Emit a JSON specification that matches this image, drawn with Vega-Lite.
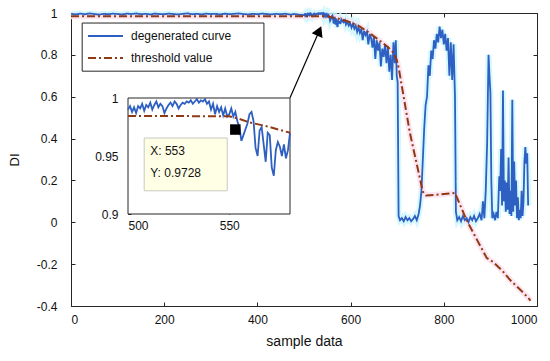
{
"$schema": "https://vega.github.io/schema/vega-lite/v6.json",
"width": 466, "height": 293,
"autosize": "none",
"padding": {"left": 71, "top": 13, "right": 13, "bottom": 55},
"background": "white",
"config": {
  "font": "Liberation Sans",
  "view": {"stroke": "#262626", "strokeWidth": 1},
  "axis": {"grid": false, "domain": false, "tickColor": "#262626", "labelColor": "#111", "labelFontSize": 12, "labelFont": "Liberation Sans", "titleFont": "Liberation Sans", "titleFontWeight": "normal", "titleColor": "#111"},
  "legend": {"labelFont": "Liberation Sans"}
},
"datasets": {
  "curves": [
    {"x":0,"y":0.996,"s":"degenerated curve"},{"x":10,"y":0.993,"s":"degenerated curve"},{"x":20,"y":0.997,"s":"degenerated curve"},{"x":30,"y":0.994,"s":"degenerated curve"},{"x":40,"y":0.998,"s":"degenerated curve"},{"x":50,"y":0.995,"s":"degenerated curve"},{"x":60,"y":0.992,"s":"degenerated curve"},{"x":70,"y":0.996,"s":"degenerated curve"},{"x":80,"y":0.994,"s":"degenerated curve"},{"x":90,"y":0.997,"s":"degenerated curve"},
    {"x":100,"y":0.995,"s":"degenerated curve"},{"x":110,"y":0.993,"s":"degenerated curve"},{"x":120,"y":0.997,"s":"degenerated curve"},{"x":130,"y":0.995,"s":"degenerated curve"},{"x":140,"y":0.998,"s":"degenerated curve"},{"x":150,"y":0.994,"s":"degenerated curve"},{"x":160,"y":0.996,"s":"degenerated curve"},{"x":170,"y":0.993,"s":"degenerated curve"},{"x":180,"y":0.997,"s":"degenerated curve"},{"x":190,"y":0.995,"s":"degenerated curve"},
    {"x":200,"y":0.994,"s":"degenerated curve"},{"x":210,"y":0.997,"s":"degenerated curve"},{"x":220,"y":0.995,"s":"degenerated curve"},{"x":230,"y":0.993,"s":"degenerated curve"},{"x":240,"y":0.996,"s":"degenerated curve"},{"x":250,"y":0.998,"s":"degenerated curve"},{"x":260,"y":0.994,"s":"degenerated curve"},{"x":270,"y":0.996,"s":"degenerated curve"},{"x":280,"y":0.993,"s":"degenerated curve"},{"x":290,"y":0.997,"s":"degenerated curve"},
    {"x":300,"y":0.995,"s":"degenerated curve"},{"x":310,"y":0.996,"s":"degenerated curve"},{"x":320,"y":0.993,"s":"degenerated curve"},{"x":330,"y":0.997,"s":"degenerated curve"},{"x":340,"y":0.994,"s":"degenerated curve"},{"x":350,"y":0.996,"s":"degenerated curve"},{"x":360,"y":0.998,"s":"degenerated curve"},{"x":370,"y":0.995,"s":"degenerated curve"},{"x":380,"y":0.993,"s":"degenerated curve"},{"x":390,"y":0.996,"s":"degenerated curve"},
    {"x":400,"y":0.994,"s":"degenerated curve"},{"x":410,"y":0.997,"s":"degenerated curve"},{"x":420,"y":0.995,"s":"degenerated curve"},{"x":430,"y":0.993,"s":"degenerated curve"},{"x":440,"y":0.996,"s":"degenerated curve"},{"x":450,"y":0.994,"s":"degenerated curve"},{"x":460,"y":0.997,"s":"degenerated curve"},{"x":470,"y":0.992,"s":"degenerated curve"},{"x":480,"y":0.995,"s":"degenerated curve"},{"x":490,"y":0.991,"s":"degenerated curve"},
    {"x":500,"y":0.990,"s":"degenerated curve"},{"x":501,"y":0.993,"s":"degenerated curve"},{"x":502,"y":0.988,"s":"degenerated curve"},{"x":503,"y":0.992,"s":"degenerated curve"},{"x":504,"y":0.987,"s":"degenerated curve"},{"x":505,"y":0.993,"s":"degenerated curve"},{"x":506,"y":0.991,"s":"degenerated curve"},{"x":507,"y":0.995,"s":"degenerated curve"},{"x":508,"y":0.989,"s":"degenerated curve"},{"x":509,"y":0.994,"s":"degenerated curve"},
    {"x":510,"y":0.992,"s":"degenerated curve"},{"x":511,"y":0.996,"s":"degenerated curve"},{"x":512,"y":0.990,"s":"degenerated curve"},{"x":513,"y":0.994,"s":"degenerated curve"},{"x":514,"y":0.997,"s":"degenerated curve"},{"x":515,"y":0.992,"s":"degenerated curve"},{"x":516,"y":0.995,"s":"degenerated curve"},{"x":517,"y":0.993,"s":"degenerated curve"},{"x":518,"y":0.987,"s":"degenerated curve"},{"x":519,"y":0.991,"s":"degenerated curve"},
    {"x":520,"y":0.994,"s":"degenerated curve"},{"x":521,"y":0.996,"s":"degenerated curve"},{"x":522,"y":0.993,"s":"degenerated curve"},{"x":523,"y":0.997,"s":"degenerated curve"},{"x":524,"y":0.995,"s":"degenerated curve"},{"x":525,"y":0.991,"s":"degenerated curve"},{"x":526,"y":0.994,"s":"degenerated curve"},{"x":527,"y":0.996,"s":"degenerated curve"},{"x":528,"y":0.995,"s":"degenerated curve"},{"x":529,"y":0.997,"s":"degenerated curve"},
    {"x":530,"y":0.996,"s":"degenerated curve"},{"x":531,"y":0.998,"s":"degenerated curve"},{"x":532,"y":0.995,"s":"degenerated curve"},{"x":533,"y":0.997,"s":"degenerated curve"},{"x":534,"y":0.999,"s":"degenerated curve"},{"x":535,"y":0.996,"s":"degenerated curve"},{"x":536,"y":0.998,"s":"degenerated curve"},{"x":537,"y":0.997,"s":"degenerated curve"},{"x":538,"y":0.999,"s":"degenerated curve"},{"x":539,"y":0.995,"s":"degenerated curve"},
    {"x":540,"y":0.997,"s":"degenerated curve"},{"x":541,"y":0.990,"s":"degenerated curve"},{"x":542,"y":0.995,"s":"degenerated curve"},{"x":543,"y":0.986,"s":"degenerated curve"},{"x":544,"y":0.993,"s":"degenerated curve"},{"x":545,"y":0.988,"s":"degenerated curve"},{"x":546,"y":0.992,"s":"degenerated curve"},{"x":547,"y":0.985,"s":"degenerated curve"},{"x":548,"y":0.991,"s":"degenerated curve"},{"x":549,"y":0.984,"s":"degenerated curve"},
    {"x":550,"y":0.986,"s":"degenerated curve"},{"x":551,"y":0.991,"s":"degenerated curve"},{"x":552,"y":0.984,"s":"degenerated curve"},{"x":553,"y":0.988,"s":"degenerated curve"},{"x":554,"y":0.980,"s":"degenerated curve"},{"x":555,"y":0.975,"s":"degenerated curve"},{"x":556,"y":0.963,"s":"degenerated curve"},{"x":557,"y":0.968,"s":"degenerated curve"},{"x":558,"y":0.973,"s":"degenerated curve"},{"x":559,"y":0.978,"s":"degenerated curve"},
    {"x":560,"y":0.986,"s":"degenerated curve"},{"x":561,"y":0.988,"s":"degenerated curve"},{"x":562,"y":0.980,"s":"degenerated curve"},{"x":563,"y":0.957,"s":"degenerated curve"},{"x":564,"y":0.950,"s":"degenerated curve"},{"x":565,"y":0.972,"s":"degenerated curve"},{"x":566,"y":0.975,"s":"degenerated curve"},{"x":567,"y":0.960,"s":"degenerated curve"},{"x":568,"y":0.945,"s":"degenerated curve"},{"x":569,"y":0.970,"s":"degenerated curve"},
    {"x":570,"y":0.968,"s":"degenerated curve"},{"x":571,"y":0.940,"s":"degenerated curve"},{"x":572,"y":0.933,"s":"degenerated curve"},{"x":573,"y":0.955,"s":"degenerated curve"},{"x":574,"y":0.962,"s":"degenerated curve"},{"x":575,"y":0.958,"s":"degenerated curve"},{"x":576,"y":0.950,"s":"degenerated curve"},{"x":577,"y":0.960,"s":"degenerated curve"},{"x":578,"y":0.948,"s":"degenerated curve"},{"x":579,"y":0.955,"s":"degenerated curve"},
    {"x":580,"y":0.970,"s":"degenerated curve"},{"x":582,"y":0.962,"s":"degenerated curve"},{"x":585,"y":0.955,"s":"degenerated curve"},{"x":588,"y":0.965,"s":"degenerated curve"},{"x":590,"y":0.945,"s":"degenerated curve"},{"x":593,"y":0.958,"s":"degenerated curve"},{"x":596,"y":0.940,"s":"degenerated curve"},{"x":599,"y":0.952,"s":"degenerated curve"},
    {"x":602,"y":0.930,"s":"degenerated curve"},{"x":605,"y":0.948,"s":"degenerated curve"},{"x":608,"y":0.925,"s":"degenerated curve"},{"x":611,"y":0.940,"s":"degenerated curve"},{"x":614,"y":0.910,"s":"degenerated curve"},{"x":617,"y":0.932,"s":"degenerated curve"},{"x":620,"y":0.905,"s":"degenerated curve"},{"x":623,"y":0.925,"s":"degenerated curve"},{"x":626,"y":0.870,"s":"degenerated curve"},{"x":629,"y":0.915,"s":"degenerated curve"},
    {"x":632,"y":0.895,"s":"degenerated curve"},{"x":635,"y":0.910,"s":"degenerated curve"},{"x":638,"y":0.850,"s":"degenerated curve"},{"x":641,"y":0.900,"s":"degenerated curve"},{"x":644,"y":0.880,"s":"degenerated curve"},{"x":647,"y":0.835,"s":"degenerated curve"},{"x":650,"y":0.890,"s":"degenerated curve"},{"x":653,"y":0.780,"s":"degenerated curve"},{"x":656,"y":0.870,"s":"degenerated curve"},{"x":659,"y":0.820,"s":"degenerated curve"},
    {"x":662,"y":0.860,"s":"degenerated curve"},{"x":665,"y":0.745,"s":"degenerated curve"},{"x":668,"y":0.830,"s":"degenerated curve"},{"x":671,"y":0.790,"s":"degenerated curve"},{"x":674,"y":0.850,"s":"degenerated curve"},{"x":677,"y":0.760,"s":"degenerated curve"},{"x":680,"y":0.840,"s":"degenerated curve"},{"x":683,"y":0.720,"s":"degenerated curve"},{"x":686,"y":0.800,"s":"degenerated curve"},{"x":689,"y":0.680,"s":"degenerated curve"},
    {"x":692,"y":0.860,"s":"degenerated curve"},{"x":695,"y":0.760,"s":"degenerated curve"},{"x":697,"y":0.870,"s":"degenerated curve"},{"x":699,"y":0.700,"s":"degenerated curve"},{"x":701,"y":0.670,"s":"degenerated curve"},{"x":703,"y":0.030,"s":"degenerated curve"},{"x":706,"y":0.010,"s":"degenerated curve"},{"x":710,"y":0.020,"s":"degenerated curve"},{"x":714,"y":0.005,"s":"degenerated curve"},{"x":718,"y":0.025,"s":"degenerated curve"},
    {"x":722,"y":0.010,"s":"degenerated curve"},{"x":726,"y":0.020,"s":"degenerated curve"},{"x":730,"y":0.005,"s":"degenerated curve"},{"x":734,"y":0.015,"s":"degenerated curve"},{"x":738,"y":0.030,"s":"degenerated curve"},{"x":742,"y":0.010,"s":"degenerated curve"},{"x":746,"y":0.040,"s":"degenerated curve"},{"x":749,"y":0.080,"s":"degenerated curve"},{"x":752,"y":0.150,"s":"degenerated curve"},{"x":755,"y":0.300,"s":"degenerated curve"},
    {"x":758,"y":0.450,"s":"degenerated curve"},{"x":761,"y":0.560,"s":"degenerated curve"},{"x":764,"y":0.600,"s":"degenerated curve"},{"x":767,"y":0.750,"s":"degenerated curve"},{"x":770,"y":0.700,"s":"degenerated curve"},{"x":773,"y":0.820,"s":"degenerated curve"},{"x":776,"y":0.780,"s":"degenerated curve"},{"x":779,"y":0.870,"s":"degenerated curve"},{"x":782,"y":0.830,"s":"degenerated curve"},{"x":785,"y":0.900,"s":"degenerated curve"},
    {"x":788,"y":0.860,"s":"degenerated curve"},{"x":791,"y":0.935,"s":"degenerated curve"},{"x":794,"y":0.880,"s":"degenerated curve"},{"x":797,"y":0.920,"s":"degenerated curve"},{"x":800,"y":0.850,"s":"degenerated curve"},{"x":803,"y":0.900,"s":"degenerated curve"},{"x":806,"y":0.820,"s":"degenerated curve"},{"x":809,"y":0.880,"s":"degenerated curve"},{"x":812,"y":0.700,"s":"degenerated curve"},{"x":815,"y":0.860,"s":"degenerated curve"},
    {"x":818,"y":0.680,"s":"degenerated curve"},{"x":821,"y":0.850,"s":"degenerated curve"},{"x":824,"y":0.600,"s":"degenerated curve"},{"x":826,"y":0.050,"s":"degenerated curve"},{"x":829,"y":0.010,"s":"degenerated curve"},{"x":833,"y":0.025,"s":"degenerated curve"},{"x":837,"y":0.005,"s":"degenerated curve"},{"x":841,"y":0.030,"s":"degenerated curve"},{"x":845,"y":0.010,"s":"degenerated curve"},{"x":849,"y":0.020,"s":"degenerated curve"},
    {"x":853,"y":0.000,"s":"degenerated curve"},{"x":857,"y":0.025,"s":"degenerated curve"},{"x":861,"y":0.010,"s":"degenerated curve"},{"x":865,"y":0.030,"s":"degenerated curve"},{"x":869,"y":0.005,"s":"degenerated curve"},{"x":873,"y":0.020,"s":"degenerated curve"},{"x":877,"y":0.040,"s":"degenerated curve"},{"x":881,"y":0.010,"s":"degenerated curve"},{"x":884,"y":0.100,"s":"degenerated curve"},{"x":887,"y":0.020,"s":"degenerated curve"},
    {"x":890,"y":0.150,"s":"degenerated curve"},{"x":893,"y":0.380,"s":"degenerated curve"},{"x":896,"y":0.800,"s":"degenerated curve"},{"x":898,"y":0.700,"s":"degenerated curve"},{"x":900,"y":0.620,"s":"degenerated curve"},{"x":902,"y":0.200,"s":"degenerated curve"},{"x":904,"y":0.020,"s":"degenerated curve"},{"x":907,"y":0.040,"s":"degenerated curve"},{"x":910,"y":0.010,"s":"degenerated curve"},{"x":913,"y":0.050,"s":"degenerated curve"},
    {"x":916,"y":0.020,"s":"degenerated curve"},{"x":919,"y":0.220,"s":"degenerated curve"},{"x":921,"y":0.150,"s":"degenerated curve"},{"x":923,"y":0.350,"s":"degenerated curve"},{"x":925,"y":0.080,"s":"degenerated curve"},{"x":927,"y":0.630,"s":"degenerated curve"},{"x":929,"y":0.100,"s":"degenerated curve"},{"x":931,"y":0.200,"s":"degenerated curve"},{"x":933,"y":0.050,"s":"degenerated curve"},{"x":935,"y":0.190,"s":"degenerated curve"},
    {"x":937,"y":0.060,"s":"degenerated curve"},{"x":939,"y":0.310,"s":"degenerated curve"},{"x":941,"y":0.040,"s":"degenerated curve"},{"x":943,"y":0.150,"s":"degenerated curve"},{"x":945,"y":0.030,"s":"degenerated curve"},{"x":947,"y":0.585,"s":"degenerated curve"},{"x":949,"y":0.050,"s":"degenerated curve"},{"x":951,"y":0.290,"s":"degenerated curve"},{"x":953,"y":0.080,"s":"degenerated curve"},{"x":955,"y":0.200,"s":"degenerated curve"},
    {"x":957,"y":0.020,"s":"degenerated curve"},{"x":959,"y":0.120,"s":"degenerated curve"},{"x":961,"y":0.010,"s":"degenerated curve"},{"x":963,"y":0.060,"s":"degenerated curve"},{"x":965,"y":0.020,"s":"degenerated curve"},{"x":967,"y":0.150,"s":"degenerated curve"},{"x":969,"y":0.030,"s":"degenerated curve"},{"x":971,"y":0.100,"s":"degenerated curve"},{"x":973,"y":0.290,"s":"degenerated curve"},{"x":975,"y":0.360,"s":"degenerated curve"},
    {"x":977,"y":0.280,"s":"degenerated curve"},{"x":979,"y":0.330,"s":"degenerated curve"},{"x":981,"y":0.080,"s":"degenerated curve"},
    {"x":0,"y":0.985,"s":"threshold value"},{"x":100,"y":0.985,"s":"threshold value"},{"x":200,"y":0.985,"s":"threshold value"},{"x":300,"y":0.985,"s":"threshold value"},{"x":400,"y":0.985,"s":"threshold value"},{"x":500,"y":0.9845,"s":"threshold value"},{"x":550,"y":0.9843,"s":"threshold value"},{"x":555,"y":0.982,"s":"threshold value"},{"x":560,"y":0.979,"s":"threshold value"},{"x":570,"y":0.975,"s":"threshold value"},{"x":580,"y":0.970,"s":"threshold value"},
    {"x":600,"y":0.955,"s":"threshold value"},{"x":620,"y":0.935,"s":"threshold value"},{"x":640,"y":0.905,"s":"threshold value"},{"x":660,"y":0.872,"s":"threshold value"},{"x":680,"y":0.838,"s":"threshold value"},{"x":692,"y":0.810,"s":"threshold value"},{"x":699,"y":0.775,"s":"threshold value"},{"x":703,"y":0.740,"s":"threshold value"},{"x":727,"y":0.430,"s":"threshold value"},{"x":755,"y":0.146,"s":"threshold value"},
    {"x":762,"y":0.128,"s":"threshold value"},{"x":790,"y":0.133,"s":"threshold value"},{"x":824,"y":0.140,"s":"threshold value"},{"x":849,"y":0.010,"s":"threshold value"},{"x":862,"y":-0.045,"s":"threshold value"},{"x":892,"y":-0.170,"s":"threshold value"},{"x":906,"y":-0.190,"s":"threshold value"},{"x":925,"y":-0.230,"s":"threshold value"},{"x":942,"y":-0.275,"s":"threshold value"},{"x":963,"y":-0.320,"s":"threshold value"},{"x":981,"y":-0.360,"s":"threshold value"},{"x":986,"y":-0.375,"s":"threshold value"}
  ],
  "legendbox": [{"x":24,"x2":414,"y":0.952,"y2":0.722}],
  "arrow": [{"x":470,"y":0.595,"x2":532.6,"y2":0.914}],
  "arrowhead": [{"x":532.6,"y":0.914}],
  "insetframe": [{"x":500,"x2":580,"y":0.9,"y2":1}],
  "tipbox": [{"x":508,"x2":549,"y":0.9655,"y2":0.92}],
  "tiptext": [{"x":511,"y":0.9546,"t":"X: 553"},{"x":511,"y":0.9356,"t":"Y: 0.9728"}],
  "tipmark": [{"x":553,"y":0.9728}]
},
"layer": [
  {
    "layer": [
      {"data": {"name": "curves"}, "transform": [{"filter": "datum.s == 'degenerated curve'"}],
       "mark": {"type": "line", "color": "#c9f6fc", "strokeWidth": 6, "opacity": 0.8},
       "encoding": {"x": {"field": "x", "type": "quantitative", "axis": null}, "y": {"field": "y", "type": "quantitative", "axis": null}}},
      {"data": {"name": "curves"}, "transform": [{"filter": "datum.s == 'threshold value'"}],
       "mark": {"type": "line", "color": "#fde3ef", "strokeWidth": 6, "opacity": 0.9},
       "encoding": {"x": {"field": "x", "type": "quantitative", "axis": null}, "y": {"field": "y", "type": "quantitative", "axis": null}}},
      {"data": {"name": "curves"}, "transform": [{"filter": "datum.s == 'degenerated curve'"}],
       "mark": {"type": "line", "strokeWidth": 1.8},
       "encoding": {
         "x": {"field": "x", "type": "quantitative", "scale": {"domain": [0, 1000], "nice": false, "zero": false},
               "axis": {"orient": "bottom", "values": [0,200,400,600,800,1000], "labelExpr": "'' + datum.value", "tickSize": -4, "labelPadding": 12, "title": "sample data", "titleFontSize": 14, "titlePadding": 9}},
         "y": {"field": "y", "type": "quantitative", "scale": {"domain": [-0.4, 1], "nice": false, "zero": false},
               "axis": {"orient": "left", "values": [-0.4,-0.2,0,0.2,0.4,0.6,0.8,1], "labelExpr": "'' + datum.value", "tickSize": -4, "labelPadding": 18, "title": "DI", "titleFontSize": 13, "titlePadding": 15}},
         "color": {"field": "s", "type": "nominal", "scale": {"domain": ["degenerated curve", "threshold value"], "range": ["#2e5fc2", "#8f3a14"]},
                   "legend": {"title": null, "orient": "top-left", "offset": 16, "padding": 0, "symbolType": "stroke", "symbolSize": 1225, "symbolStrokeWidth": 2, "labelFontSize": 12, "labelOffset": 7, "rowPadding": 8, "clipHeight": 14, "labelColor": "#111"}},
         "strokeDash": {"field": "s", "type": "nominal", "scale": {"domain": ["degenerated curve", "threshold value"], "range": [[1,0],[8,3,2,3]]}, "legend": {"title": null}}
       }},
      {"data": {"name": "curves"}, "transform": [{"filter": "datum.s == 'threshold value'"}],
       "mark": {"type": "line", "strokeWidth": 2},
       "encoding": {
         "x": {"field": "x", "type": "quantitative", "axis": {"orient": "top", "values": [0,200,400,600,800,1000], "labels": false, "tickSize": -4, "title": null}},
         "y": {"field": "y", "type": "quantitative", "axis": {"orient": "right", "values": [-0.4,-0.2,0,0.2,0.4,0.6,0.8,1], "labels": false, "tickSize": -4, "title": null}},
         "color": {"field": "s", "type": "nominal"},
         "strokeDash": {"field": "s", "type": "nominal"}
       }},
      {"data": {"name": "legendbox"}, "mark": {"type": "rect", "fill": "white", "fillOpacity": 0, "stroke": "#262626", "strokeWidth": 1},
       "encoding": {"x": {"field": "x", "type": "quantitative", "axis": null}, "x2": {"field": "x2"}, "y": {"field": "y", "type": "quantitative", "axis": null}, "y2": {"field": "y2"}}},
      {"data": {"name": "arrow"}, "mark": {"type": "rule", "color": "black", "strokeWidth": 1.2},
       "encoding": {"x": {"field": "x", "type": "quantitative", "axis": null}, "x2": {"field": "x2"}, "y": {"field": "y", "type": "quantitative", "axis": null}, "y2": {"field": "y2"}}},
      {"data": {"name": "arrowhead"}, "mark": {"type": "point", "shape": "triangle-up", "filled": true, "color": "black", "size": 140, "angle": 24, "opacity": 1},
       "encoding": {"x": {"field": "x", "type": "quantitative", "axis": null}, "y": {"field": "y", "type": "quantitative", "axis": null}}}
    ],
    "resolve": {"axis": {"x": "independent", "y": "independent"}}
  },
  {
    "layer": [
      {"data": {"name": "insetframe"}, "mark": {"type": "rect", "fill": "white", "stroke": "#262626", "strokeWidth": 1},
       "encoding": {
         "x": {"field": "x", "type": "quantitative", "scale": {"domain": [500, 580], "range": [57, 219], "nice": false, "zero": false},
               "axis": {"orient": "bottom", "offset": -92, "values": [500, 550], "tickSize": -3, "labelPadding": 9, "title": null}},
         "x2": {"field": "x2"},
         "y": {"field": "y", "type": "quantitative", "scale": {"domain": [0.9, 1], "range": [201, 85], "nice": false, "zero": false},
               "axis": {"orient": "left", "offset": -57, "values": [0.9, 0.95, 1], "labelExpr": "'' + datum.value", "tickSize": -3, "labelPadding": 13, "title": null}},
         "y2": {"field": "y2"}
       }},
      {"data": {"name": "curves"}, "transform": [{"filter": "datum.s == 'degenerated curve' && datum.x >= 500 && datum.x <= 580"}],
       "mark": {"type": "line", "color": "#2e5fc2", "strokeWidth": 1.8},
       "encoding": {"x": {"field": "x", "type": "quantitative"}, "y": {"field": "y", "type": "quantitative"}}},
      {"data": {"name": "curves"}, "transform": [{"filter": "datum.s == 'threshold value' && datum.x >= 500 && datum.x <= 580"}],
       "mark": {"type": "line", "color": "#8f3a14", "strokeWidth": 2, "strokeDash": [8,3,2,3]},
       "encoding": {"x": {"field": "x", "type": "quantitative"}, "y": {"field": "y", "type": "quantitative"}}},
      {"data": {"name": "tipbox"}, "mark": {"type": "rect", "fill": "#ffffe6", "stroke": "#c8c8c0", "strokeWidth": 1},
       "encoding": {"x": {"field": "x", "type": "quantitative"}, "x2": {"field": "x2"}, "y": {"field": "y", "type": "quantitative"}, "y2": {"field": "y2"}}},
      {"data": {"name": "tiptext"}, "mark": {"type": "text", "align": "left", "baseline": "middle", "fontSize": 12, "color": "#111"},
       "encoding": {"x": {"field": "x", "type": "quantitative"}, "y": {"field": "y", "type": "quantitative"}, "text": {"field": "t"}}},
      {"data": {"name": "tipmark"}, "mark": {"type": "point", "shape": "square", "filled": true, "color": "black", "size": 110, "opacity": 1},
       "encoding": {"x": {"field": "x", "type": "quantitative"}, "y": {"field": "y", "type": "quantitative"}}}
    ]
  }
],
"resolve": {"scale": {"x": "independent", "y": "independent"}}
}
